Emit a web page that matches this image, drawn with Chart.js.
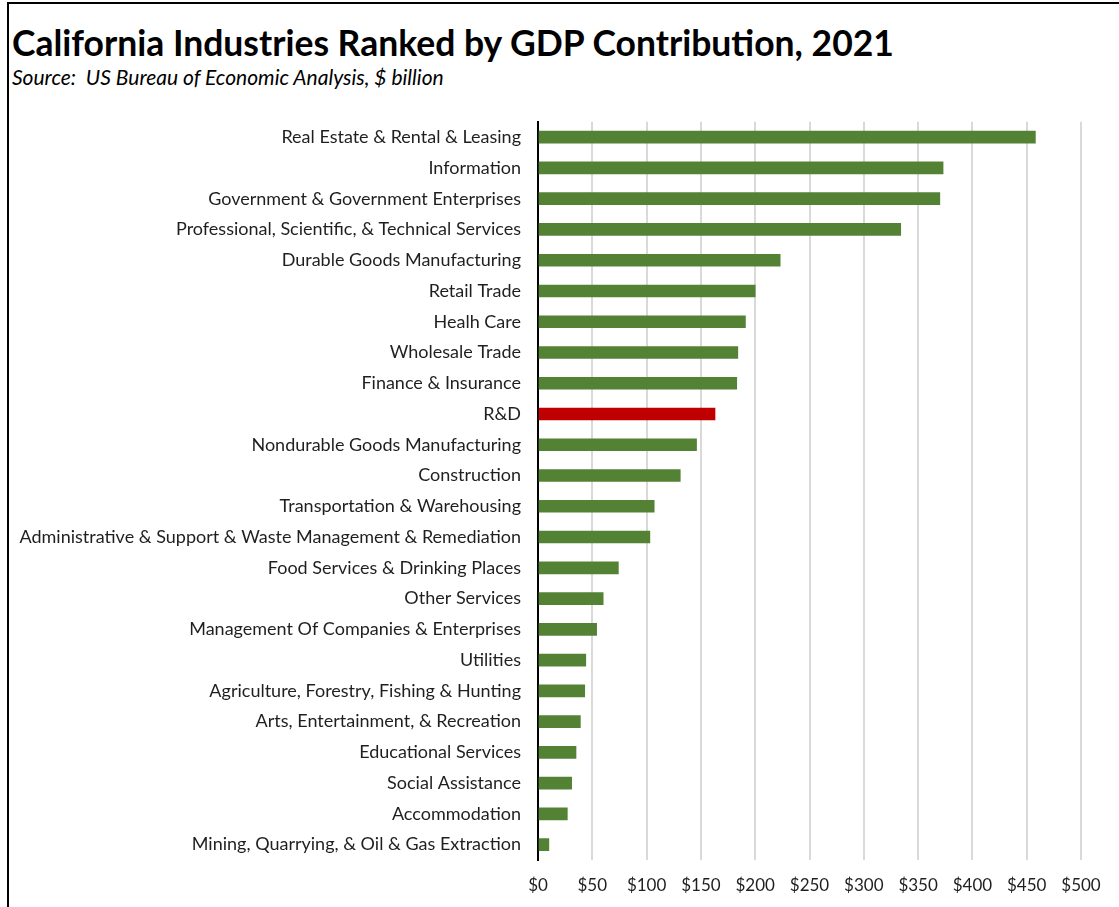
<!DOCTYPE html>
<html>
<head>
<meta charset="utf-8">
<title>California Industries Ranked by GDP Contribution, 2021</title>
<script src="https://cdn.jsdelivr.net/npm/chart.js@4/dist/chart.umd.min.js"></script>
<style>
  html, body { margin: 0; padding: 0; background: #fff; }
  #frame {
    position: relative;
    width: 1119px;
    height: 907px;
    overflow: hidden;
    font-family: Lato, "Open Sans", sans-serif;
  }
  #border {
    position: absolute;
    left: 7px;
    top: 2px;
    right: 0;
    bottom: -4px;
    border-top: 2px solid #000;
    border-left: 2px solid #000;
  }
  #title {
    position: absolute;
    left: 12px;
    top: 21px;
    font-size: 35.5px;
    font-weight: bold;
    color: #000;
    white-space: nowrap;
  }
  #subtitle {
    position: absolute;
    left: 12px;
    top: 64px;
    font-size: 21px;
    font-style: italic;
    color: #000;
    white-space: pre;
  }
  #chartWrap {
    position: absolute;
    left: 0;
    top: 94px;
    width: 1119px;
    height: 813px;
  }
</style>
</head>
<body>
<div id="frame">
  <div id="border"></div>
  <div id="title">California Industries Ranked by GDP Contribution, 2021</div>
  <div id="subtitle">Source:  US Bureau of Economic Analysis, $ billion</div>
  <div id="chartWrap"><canvas id="gdpChart" width="1119" height="813"></canvas></div>
</div>
<script>
const industries = [
  "Real Estate & Rental & Leasing",
  "Information",
  "Government & Government Enterprises",
  "Professional, Scientific, & Technical Services",
  "Durable Goods Manufacturing",
  "Retail Trade",
  "Healh Care",
  "Wholesale Trade",
  "Finance & Insurance",
  "R&D",
  "Nondurable Goods Manufacturing",
  "Construction",
  "Transportation & Warehousing",
  "Administrative & Support & Waste Management & Remediation",
  "Food Services & Drinking Places",
  "Other Services",
  "Management Of Companies & Enterprises",
  "Utilities",
  "Agriculture, Forestry, Fishing & Hunting",
  "Arts, Entertainment, & Recreation",
  "Educational Services",
  "Social Assistance",
  "Accommodation",
  "Mining, Quarrying, & Oil & Gas Extraction",
];

// GDP contribution, $ billion
const gdpBillions = [
  458, 373, 370, 334, 223, 200, 191, 184, 183, 163, 146, 131,
  107, 103, 74, 60, 54, 44, 43, 39, 35, 31, 27, 10,
];

const highlighted = ["R&D"];
const axisTicks = [0, 50, 100, 150, 200, 250, 300, 350, 400, 450, 500];

const GREEN = "#548235";
const RED = "#c00000";
const LABEL_COLOR = "#1f1f1f";

function renderChart() {
  const ctx = document.getElementById("gdpChart").getContext("2d");
  const barColors = industries.map((name) => (highlighted.includes(name) ? RED : GREEN));

  new Chart(ctx, {
    type: "bar",
    data: {
      labels: industries,
      datasets: [
        {
          data: gdpBillions,
          backgroundColor: barColors,
          borderWidth: 0,
          barThickness: 12,
        },
      ],
    },
    options: {
      indexAxis: "y",
      responsive: false,
      animation: false,
      layout: { padding: { top: 14, right: 38, bottom: 0, left: 0 } },
      plugins: {
        legend: { display: false },
        tooltip: { enabled: false },
      },
      scales: {
        x: {
          min: axisTicks[0],
          max: axisTicks[axisTicks.length - 1],
          afterBuildTicks: (scale) => {
            scale.ticks = axisTicks.map((v) => ({ value: v }));
          },
          afterFit: (scale) => {
            scale.height = 47;
          },
          border: { display: false },
          grid: { color: "#d9d9d9", lineWidth: 2, drawTicks: false },
          ticks: {
            padding: 15,
            color: LABEL_COLOR,
            font: { family: "Lato", size: 17 },
            callback: (value) => `$${value}`,
          },
        },
        y: {
          afterFit: (scale) => {
            scale.width = 538;
          },
          border: { display: true, color: "#000", width: 2 },
          grid: { display: false, drawTicks: false },
          ticks: {
            padding: 17,
            color: LABEL_COLOR,
            autoSkip: false,
            font: { family: "Lato", size: 18 },
          },
        },
      },
    },
  });
}

renderChart();
</script>
</body>
</html>
